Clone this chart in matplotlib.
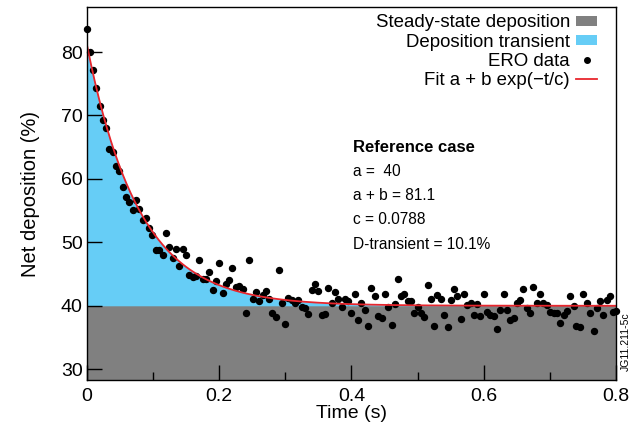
import numpy as np
from matplotlib import pyplot as plt
from matplotlib.patches import Patch
from matplotlib.lines import Line2D
from matplotlib.ticker import MultipleLocator

plt.rcParams['font.family'] = ['Liberation Sans', 'DejaVu Sans']

# ERO data points (time in s, net deposition in %)
time_s = [0.000, 0.0045, 0.0095, 0.0136, 0.0197, 0.0237, 0.0287, 0.0338, 0.0388, 0.0439,
          0.0489, 0.054, 0.059, 0.064, 0.069, 0.074, 0.079, 0.084, 0.089, 0.094,
          0.099, 0.104, 0.109, 0.1145, 0.1195, 0.1245, 0.1296, 0.1346, 0.1396, 0.1447,
          0.1497, 0.1547, 0.1598, 0.1648, 0.1698, 0.175, 0.180, 0.185, 0.190, 0.195,
          0.200, 0.205, 0.210, 0.215, 0.220, 0.225, 0.230, 0.2355, 0.2405, 0.2455,
          0.2505, 0.2555, 0.2605, 0.2655, 0.2705, 0.2755, 0.2805, 0.2855, 0.2905, 0.2955,
          0.300, 0.3045, 0.3095, 0.3146, 0.3196, 0.3247, 0.330, 0.3347, 0.340, 0.345,
          0.350, 0.355, 0.360, 0.365, 0.370, 0.375, 0.380, 0.385, 0.390, 0.395,
          0.400, 0.405, 0.410, 0.415, 0.420, 0.425, 0.430, 0.435, 0.440, 0.4455,
          0.4505, 0.4555, 0.461, 0.466, 0.470, 0.475, 0.480, 0.485, 0.490, 0.495,
          0.500, 0.505, 0.510, 0.515, 0.520, 0.525, 0.530, 0.535, 0.540, 0.5455,
          0.550, 0.555, 0.560, 0.565, 0.570, 0.575, 0.580, 0.585, 0.590, 0.595,
          0.600, 0.605, 0.610, 0.615, 0.620, 0.625, 0.630, 0.635, 0.640, 0.645,
          0.650, 0.655, 0.660, 0.665, 0.670, 0.675, 0.680, 0.685, 0.690, 0.6955,
          0.700, 0.7055, 0.711, 0.716, 0.721, 0.726, 0.731, 0.736, 0.739, 0.745,
          0.7505, 0.7557, 0.761, 0.766, 0.771, 0.776, 0.781, 0.786, 0.791, 0.796,
          0.800]
deposition = [83.6, 80.0, 77.2, 74.4, 71.5, 69.3, 68.1, 64.7, 64.3, 62.1,
              61.3, 58.8, 57.2, 56.4, 55.1, 56.7, 55.3, 53.6, 53.9, 52.2,
              51.2, 48.8, 48.8, 48.0, 51.5, 49.2, 47.6, 49.0, 46.3, 49.0,
              48.0, 44.8, 44.6, 44.7, 47.2, 44.3, 44.3, 45.3, 42.5, 43.9,
              46.8, 42.0, 43.4, 44.0, 45.9, 43.0, 43.1, 42.7, 38.9, 47.2,
              41.1, 42.1, 40.7, 41.7, 42.4, 41.1, 38.9, 38.2, 45.7, 40.5,
              37.1, 41.3, 40.9, 40.5, 40.9, 39.8, 39.6, 38.7, 42.5, 43.4,
              42.3, 38.5, 38.7, 42.8, 40.5, 42.1, 41.0, 39.8, 41.1, 40.8,
              38.8, 41.9, 37.7, 40.4, 39.4, 36.8, 42.8, 41.5, 38.4, 38.0,
              41.9, 39.8, 36.9, 40.3, 44.2, 41.5, 41.8, 40.8, 40.8, 38.8,
              39.8, 38.8, 38.2, 43.3, 41.1, 36.8, 41.7, 41.1, 38.5, 36.7,
              40.9, 42.6, 41.6, 37.9, 41.9, 40.1, 40.4, 38.5, 40.3, 38.4,
              41.8, 39.0, 38.6, 38.4, 36.3, 39.4, 41.8, 39.4, 37.7, 38.1,
              40.5, 40.9, 42.6, 39.7, 38.9, 42.9, 40.5, 41.8, 40.5, 40.2,
              39.0, 38.9, 38.9, 37.3, 38.5, 39.2, 41.6, 40.0, 36.8, 36.7,
              41.8, 40.4, 38.9, 36.0, 39.7, 40.7, 38.5, 40.9, 41.6, 39.0,
              39.1]

# fit parameters a + b exp(-t/c)
a = 40.0
a_plus_b = 81.1
c = 0.0788
d_transient = 10.1

BLUE = '#66cdf6'
GRAY = '#808080'
RED = '#e8262d'

fig = plt.figure(figsize=(6.41, 4.33), dpi=100)
ax = fig.add_axes([0.1357, 0.1224, 0.961 - 0.1357, 0.9838 - 0.1224])

xmin, xmax = 0.0, 0.8
ymin, ymax = 28.3, 87.1

t_fit = np.linspace(xmin, xmax, 400)
y_fit = a + (a_plus_b - a) * np.exp(-t_fit / c)

ax.fill_between([xmin, xmax], ymin, a, color=GRAY, lw=0, zorder=1)
ax.fill_between(t_fit, a, y_fit, color=BLUE, lw=0, zorder=1)
ax.plot(time_s, deposition, 'o', color='black', ms=4.3, zorder=3, clip_on=False)
ax.plot(t_fit, y_fit, color=RED, lw=1.3, zorder=4)

ax.set_xlim(xmin, xmax)
ax.set_ylim(ymin, ymax)
ax.set_xticks([0, 0.2, 0.4, 0.6, 0.8])
ax.set_xticklabels(['0', '0.2', '0.4', '0.6', '0.8'])
ax.xaxis.set_minor_locator(MultipleLocator(0.1))
ax.set_yticks([30, 40, 50, 60, 70, 80])
ax.tick_params(axis='both', which='major', direction='in', length=11, width=1,
               labelsize=14, top=False, right=False)
ax.tick_params(axis='x', which='minor', direction='in', length=6, width=1, top=False)
ax.tick_params(axis='y', pad=3)
ax.tick_params(axis='x', pad=6)
for s in ax.spines.values():
    s.set_linewidth(1)
    s.set_zorder(5)

ax.set_xlabel('Time (s)', fontsize=14, labelpad=0)
ax.set_ylabel('Net deposition (%)', fontsize=14.5, labelpad=15)

handles = [Patch(facecolor=GRAY, edgecolor='none'),
           Patch(facecolor=BLUE, edgecolor='none'),
           Line2D([], [], marker='o', color='black', ls='none', ms=4),
           Line2D([], [], color=RED, lw=1.3)]
labels = ['Steady-state deposition', 'Deposition transient', 'ERO data',
          'Fit a + b exp(\u2212t/c)']
ax.legend(handles, labels, loc='upper right', bbox_to_anchor=(0.985, 1.01),
          frameon=False, markerfirst=False, fontsize=13.4, handlelength=1.1,
          handleheight=0.45, handletextpad=0.35, labelspacing=0.12, borderaxespad=0.2)

tx = 0.402
ax.text(tx, 64.9, 'Reference case', fontsize=12, fontweight='bold', va='center')
ax.text(tx, 64.9 - 24 / 6.33, 'a =  40', fontsize=11.2, va='center')
ax.text(tx, 64.9 - 48 / 6.33, 'a + b = %.1f' % a_plus_b, fontsize=11.2, va='center')
ax.text(tx, 64.9 - 72 / 6.33, 'c = %.4f' % c, fontsize=11.2, va='center')
ax.text(tx, 64.9 - 96 / 6.33, 'D-transient = %.1f%%' % d_transient, fontsize=11.2, va='center')

fig.text(0.977, 0.21, 'JG11.211-5c', rotation=90, fontsize=7.5, ha='center', va='center')

fig.savefig('out.png', dpi=100)
